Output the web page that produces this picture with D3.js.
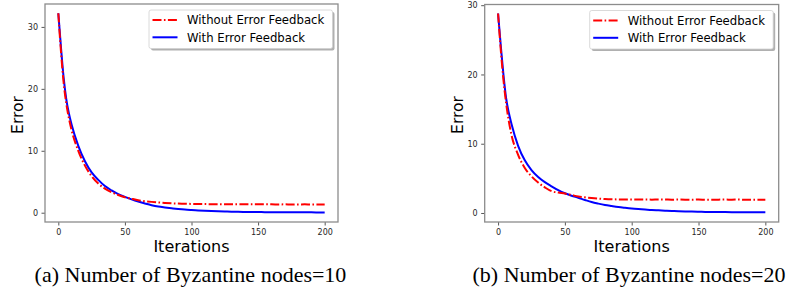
<!DOCTYPE html>
<html>
<head>
<meta charset="utf-8">
<script src="https://cdn.jsdelivr.net/npm/d3@7"></script>
<style>
  body { margin: 0; background: #fff; }
  svg { display: block; }
</style>
</head>
<body>
<div id="chart"></div>
<script>
// iterations (denser at the start where the curve is steep)
var iterations = [0, 2, 4, 6, 8, 10, 15, 20, 25, 30, 35, 40, 45, 50, 55, 60, 65, 70, 75, 80,
  85, 90, 95, 100, 105, 110, 115, 120, 125, 130, 135, 140, 145, 150, 155, 160, 165, 170, 175,
  180, 185, 190, 195, 200];

// (a) Byzantine nodes = 10
var withoutEF_a = [32.2, 26.0, 21.0, 17.6, 15.2, 13.3, 10.0, 7.6, 5.9, 4.7, 3.9, 3.3, 2.85, 2.5,
  2.25, 2.02, 1.86, 1.75, 1.66, 1.58, 1.52, 1.48, 1.45, 1.42, 1.40, 1.39, 1.38, 1.38, 1.37, 1.36,
  1.37, 1.36, 1.35, 1.35, 1.36, 1.35, 1.34, 1.35, 1.34, 1.34, 1.35, 1.33, 1.34, 1.33];
var withEF_a = [32.2, 26.7, 21.8, 18.3, 16.0, 14.2, 10.8, 8.3, 6.5, 5.3, 4.3, 3.6, 3.0, 2.55,
  2.15, 1.8, 1.5, 1.22, 1.0, 0.85, 0.72, 0.6, 0.5, 0.43, 0.37, 0.31, 0.26, 0.22, 0.19, 0.16,
  0.14, 0.12, 0.11, 0.1, 0.09, 0.08, 0.08, 0.07, 0.07, 0.06, 0.06, 0.06, 0.05, 0.05];

// (b) Byzantine nodes = 20
var withoutEF_b = [28.8, 23.6, 19.3, 15.9, 13.3, 11.3, 8.4, 6.5, 5.3, 4.4, 3.7, 3.15, 2.95, 2.8,
  2.6, 2.38, 2.26, 2.16, 2.08, 2.02, 1.98, 1.96, 1.95, 1.96, 1.94, 1.95, 1.93, 1.95, 1.94, 1.92,
  1.94, 1.93, 1.92, 1.94, 1.92, 1.91, 1.93, 1.94, 1.92, 1.95, 1.90, 1.92, 1.93, 1.93];
var withEF_b = [28.8, 24.2, 20.0, 16.6, 14.5, 12.9, 9.7, 7.6, 6.2, 5.2, 4.45, 3.85, 3.3, 2.85,
  2.5, 2.2, 1.88, 1.58, 1.35, 1.15, 1.0, 0.86, 0.75, 0.65, 0.57, 0.5, 0.43, 0.38, 0.33, 0.29,
  0.26, 0.23, 0.2, 0.18, 0.16, 0.15, 0.14, 0.13, 0.12, 0.11, 0.1, 0.1, 0.09, 0.09];

var xTicks = [0, 50, 100, 150, 200];
var yTicks = [0, 10, 20, 30];
var seriesNames = ["Without Error Feedback", "With Error Feedback"];
var captions = ["(a) Number of Byzantine nodes=10", "(b) Number of Byzantine nodes=20"];

var W = 786, H = 292;

var svg = d3.select("#chart")
  .append("svg")
  .attr("width", W)
  .attr("height", H);

svg.append("rect").attr("width", W).attr("height", H).attr("fill", "#fff");

var panels = [
  { left: 45, right: 338, top: 4, bottom: 222, yDom: [-1.5, 33.7],
    red: withoutEF_a, blue: withEF_a, caption: captions[0], capX: 190.5 },
  { left: 484.7, right: 778.7, top: 4.5, bottom: 222, yDom: [-1.3, 30.1],
    red: withoutEF_b, blue: withEF_b, caption: captions[1], capX: 629 }
];

panels.forEach(function (p) {
  var x = d3.scaleLinear().domain([-10, 210]).range([p.left, p.right]);
  var y = d3.scaleLinear().domain(p.yDom).range([p.bottom, p.top]);

  var g = svg.append("g");

  // axes
  var xAxis = g.append("g")
    .attr("transform", "translate(0," + p.bottom + ")")
    .call(d3.axisBottom(x).tickValues(xTicks).tickSize(3.5).tickPadding(3.5));
  var yAxis = g.append("g")
    .attr("transform", "translate(" + p.left + ",0)")
    .call(d3.axisLeft(y).tickValues(yTicks).tickSize(3.5).tickPadding(3.5));

  [xAxis, yAxis].forEach(function (a) {
    a.select(".domain").remove();
    a.selectAll(".tick line").attr("stroke", "#444").attr("stroke-width", 0.9);
    a.selectAll(".tick text")
      .attr("fill", "#262626")
      .style("font-family", "DejaVu Sans")
      .style("font-size", "8px");
  });

  // lines
  var line = d3.line()
    .x(function (d, i) { return x(iterations[i]); })
    .y(function (d) { return y(d); })
    .curve(d3.curveMonotoneX);

  g.append("path")
    .datum(p.blue)
    .attr("d", line)
    .attr("fill", "none")
    .attr("stroke", "#0000ff")
    .attr("stroke-width", 2);

  g.append("path")
    .datum(p.red)
    .attr("d", line)
    .attr("fill", "none")
    .attr("stroke", "#ff0000")
    .attr("stroke-width", 2)
    .attr("stroke-dasharray", "9,2.4,1.6,2.4");

  // frame
  g.append("rect")
    .attr("x", p.left).attr("y", p.top)
    .attr("width", p.right - p.left).attr("height", p.bottom - p.top)
    .attr("fill", "none")
    .attr("stroke", "#8c8c8c")
    .attr("stroke-width", 1.3);

  // axis labels
  g.append("text")
    .attr("x", (p.left + p.right) / 2)
    .attr("y", 252)
    .attr("text-anchor", "middle")
    .style("font-family", "DejaVu Sans")
    .style("font-size", "16px")
    .attr("fill", "#000")
    .text("Iterations");

  g.append("text")
    .attr("transform", "translate(" + (p.left - 27.5) + ",115) rotate(-90)")
    .attr("text-anchor", "middle")
    .attr("dy", "0.35em")
    .style("font-family", "DejaVu Sans")
    .style("font-size", "15.5px")
    .attr("fill", "#000")
    .text("Error");

  // legend
  var lw = 183.5, lh = 38.5;
  var lx = p.right - 5.5 - lw, ly = p.top + 6;
  var leg = g.append("g").attr("transform", "translate(" + lx + "," + ly + ")");
  leg.append("rect")
    .attr("x", 2).attr("y", 2).attr("width", lw).attr("height", lh)
    .attr("rx", 2)
    .attr("fill", "#b0b0b0");
  leg.append("rect")
    .attr("width", lw).attr("height", lh)
    .attr("rx", 2)
    .attr("fill", "#fff")
    .attr("stroke", "#d0d0d0")
    .attr("stroke-width", 0.8);

  var rows = [
    { name: seriesNames[0], color: "#ff0000", dash: "9,2.4,1.6,2.4" },
    { name: seriesNames[1], color: "#0000ff", dash: null }
  ];
  rows.forEach(function (r, i) {
    var ry = 10 + i * 17.3;
    leg.append("line")
      .attr("x1", 3.5).attr("x2", 28.5)
      .attr("y1", ry).attr("y2", ry)
      .attr("stroke", r.color)
      .attr("stroke-width", 2)
      .attr("stroke-dasharray", r.dash);
    leg.append("text")
      .attr("x", 38).attr("y", ry)
      .attr("dy", "0.36em")
      .style("font-family", "DejaVu Sans")
      .style("font-size", "11.7px")
      .attr("fill", "#000")
      .text(r.name);
  });

  // caption
  g.append("text")
    .attr("x", p.capX)
    .attr("y", 281.5)
    .attr("text-anchor", "middle")
    .style("font-family", "Liberation Serif")
    .style("font-size", "22px")
    .attr("fill", "#000")
    .text(p.caption);
});
</script>
</body>
</html>
